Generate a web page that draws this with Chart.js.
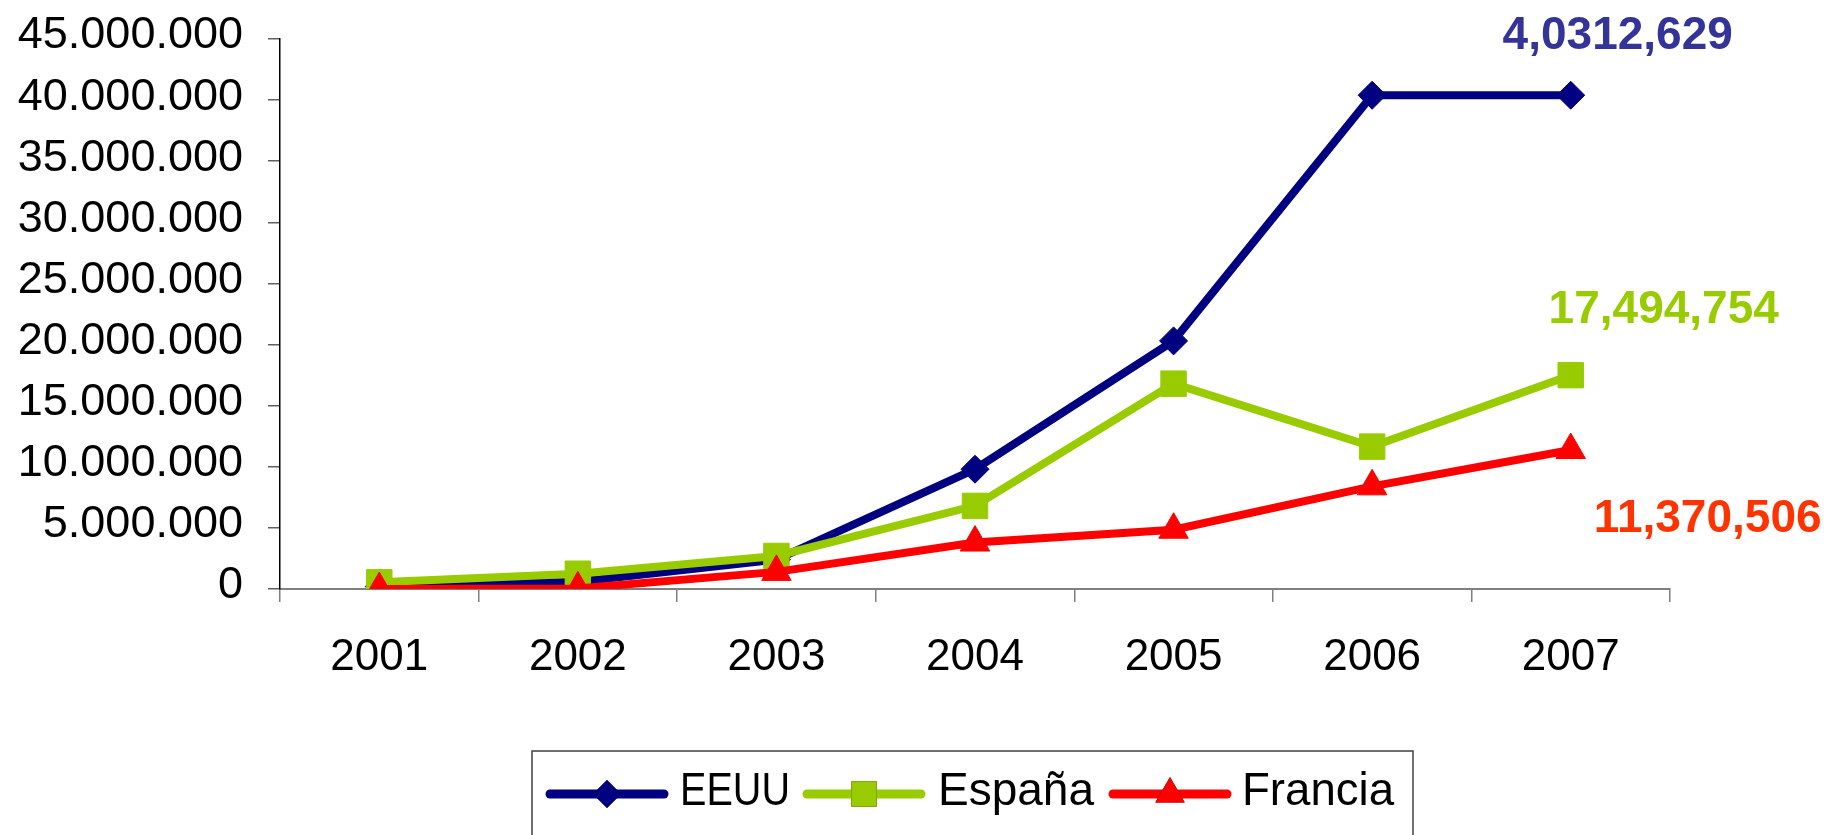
<!DOCTYPE html>
<html lang="es">
<head>
    <meta charset="UTF-8">
    <title>EEUU, España, Francia 2001-2007</title>
    <script src="https://cdn.jsdelivr.net/npm/chart.js"></script>
</head>
<style>
    html, body { margin: 0; padding: 0; background: #ffffff; }
    #wrap { width: 1834px; height: 835px; }
</style>
<body>
    <div id="wrap">
        <canvas id="chart" width="1834" height="835"></canvas>
    </div>

    <script>
        // datos
        const years = ['2001', '2002', '2003', '2004', '2005', '2006', '2007'];
        const seriesNames = ['EEUU', 'España', 'Francia'];
        const eeuu = [200000, 600000, 2400000, 9800000, 20300000, 40400000, 40400000];
        const espana = [550000, 1250000, 2700000, 6800000, 16800000, 11650000, 17494754];
        const francia = [0, 50000, 1400000, 3800000, 4850000, 8400000, 11370506];
        const endLabels = ['4,0312,629', '17,494,754', '11,370,506'];

        const lineColors = ['#000080', '#99CC00', '#FF0000'];
        const labelColors = ['#333399', '#99CC00', '#FF3300'];
        const markers = ['rectRot', 'rect', 'triangle'];
        const markerSizes = [14, 18, 17];
        // desplazamiento de la etiqueta respecto al ultimo punto
        const labelOffsets = [[47, -59], [93, -65], [137, 69]];
        // posicion de cada elemento de la leyenda (linea, texto, ancho max del texto)
        const legendLineX = [546, 803, 1109];
        const legendTextX = [680, 938, 1242];
        const legendTextW = [110, 158, 152];

        function puntos(n) {
            return String(n).replace(/\B(?=(\d{3})+(?!\d))/g, '.');
        }

        // etiquetas al final de cada serie
        const endLabelPlugin = {
            id: 'endLabels',
            afterDatasetsDraw(chart) {
                const ctx = chart.ctx;
                ctx.save();
                ctx.font = 'bold 46px "Liberation Sans", Arial, sans-serif';
                ctx.textAlign = 'center';
                ctx.textBaseline = 'middle';
                chart.data.datasets.forEach((ds, i) => {
                    const meta = chart.getDatasetMeta(i);
                    const pt = meta.data[meta.data.length - 1];
                    ctx.fillStyle = labelColors[i];
                    ctx.fillText(endLabels[i], pt.x + labelOffsets[i][0], pt.y + labelOffsets[i][1]);
                });
                ctx.restore();
            }
        };

        // leyenda con linea + marcador dentro de un recuadro
        const boxLegendPlugin = {
            id: 'boxLegend',
            afterDraw(chart) {
                const ctx = chart.ctx;
                const top = 751, left = 532, right = 1413;
                const cy = 794;
                ctx.save();
                ctx.strokeStyle = '#404040';
                ctx.lineWidth = 1.5;
                ctx.strokeRect(left, top, right - left, 120);

                ctx.font = '46px "Liberation Sans", Arial, sans-serif';
                ctx.textBaseline = 'middle';
                ctx.textAlign = 'left';
                chart.data.datasets.forEach((ds, i) => {
                    const x = legendLineX[i];
                    ctx.strokeStyle = lineColors[i];
                    ctx.lineWidth = 9;
                    ctx.lineCap = 'round';
                    ctx.beginPath();
                    ctx.moveTo(x + 4, cy);
                    ctx.lineTo(x + 118, cy);
                    ctx.stroke();
                    Chart.helpers.drawPoint(ctx, {
                        pointStyle: markers[i],
                        radius: markerSizes[i],
                        rotation: 0,
                        borderWidth: 0
                    }, x + 61, cy);
                    ctx.fillStyle = lineColors[i];
                    ctx.fill();
                    ctx.fillStyle = '#000000';
                    ctx.fillText(ds.label, legendTextX[i], cy - 2, legendTextW[i]);
                });
                ctx.restore();
            }
        };

        const allData = [eeuu, espana, francia];
        const datasets = seriesNames.map((name, i) => ({
            label: name,
            data: allData[i],
            borderColor: lineColors[i],
            backgroundColor: lineColors[i],
            borderWidth: 8,
            pointStyle: markers[i],
            pointRadius: markerSizes[i],
            pointHoverRadius: markerSizes[i],
            pointBorderWidth: 1,
            pointBorderColor: lineColors[i],
            pointBackgroundColor: lineColors[i],
            tension: 0,
            fill: false,
            order: 3 - i,
        }));

        const ctx = document.getElementById('chart').getContext('2d');
        const chart = new Chart(ctx, {
            type: 'line',
            data: { labels: years, datasets: datasets },
            plugins: [endLabelPlugin, boxLegendPlugin],
            options: {
                responsive: false,
                animation: false,
                layout: { autoPadding: false, padding: { top: 39, right: 164, bottom: 0, left: 0 } },
                plugins: {
                    legend: { display: false },
                    tooltip: { enabled: false },
                },
                scales: {
                    x: {
                        offset: true,
                        grid: {
                            offset: true,
                            drawOnChartArea: false,
                            drawTicks: true,
                            tickLength: 13,
                            color: '#808080',
                            lineWidth: 1.5,
                        },
                        border: { color: '#808080', width: 2 },
                        ticks: {
                            color: '#000000',
                            padding: 29,
                            maxRotation: 0,
                            font: { family: '"Liberation Sans", Arial, sans-serif', size: 44 },
                        },
                        afterFit(scale) { scale.height = 835 - 589; },
                    },
                    y: {
                        min: 0,
                        max: 45000000,
                        grid: {
                            drawOnChartArea: false,
                            drawTicks: true,
                            tickLength: 12,
                            color: '#606060',
                            lineWidth: 1.5,
                        },
                        border: { color: '#000000', width: 1.5 },
                        ticks: {
                            stepSize: 5000000,
                            color: '#000000',
                            padding: 25,
                            labelOffset: -3,
                            // lineHeight bajo para que la etiqueta superior no empuje el area
                            font: { family: '"Liberation Sans", Arial, sans-serif', size: 45, lineHeight: 0.5 },
                            callback: (v) => puntos(v),
                        },
                        afterFit(scale) { scale.width = 280; },
                    },
                },
            },
        });
    </script>
</body>
</html>
